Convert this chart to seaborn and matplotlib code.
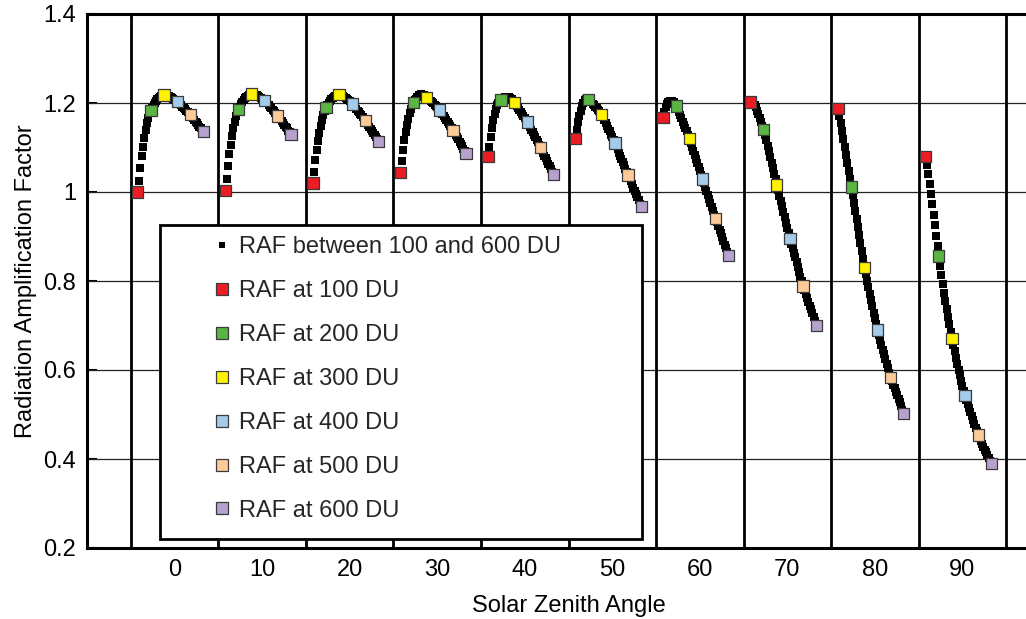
import numpy as np
import pandas as pd
import matplotlib
matplotlib.use("Agg")
import matplotlib.pyplot as plt
from matplotlib.lines import Line2D
from matplotlib.patches import Rectangle
import seaborn as sns

# Solar zenith angles (degrees) and ozone column amounts (Dobson units)
angles = [0, 10, 20, 30, 40, 50, 60, 70, 80, 90]
ozone_du = list(range(100, 601, 10))
marker_du = [100, 200, 300, 400, 500, 600]

# RAF at every 10 DU from 100 to 600 DU, one list per solar zenith angle
raf_sza0 = [1.000, 1.025, 1.055, 1.081, 1.102, 1.121, 1.139, 1.154, 1.167, 1.177, 1.183,
            1.189, 1.195, 1.200, 1.204, 1.208, 1.211, 1.214, 1.216, 1.217, 1.218,
            1.218, 1.217, 1.216, 1.215, 1.213, 1.211, 1.209, 1.207, 1.205, 1.204,
            1.201, 1.198, 1.195, 1.192, 1.189, 1.186, 1.183, 1.180, 1.177, 1.174,
            1.170, 1.166, 1.162, 1.158, 1.155, 1.151, 1.147, 1.143, 1.139, 1.136]
raf_sza10 = [1.004, 1.029, 1.059, 1.085, 1.106, 1.125, 1.143, 1.158, 1.171, 1.180, 1.186,
             1.192, 1.198, 1.203, 1.207, 1.211, 1.214, 1.216, 1.218, 1.219, 1.220,
             1.220, 1.219, 1.218, 1.217, 1.215, 1.213, 1.211, 1.209, 1.207, 1.205,
             1.202, 1.199, 1.196, 1.192, 1.189, 1.185, 1.182, 1.178, 1.175, 1.171,
             1.167, 1.163, 1.159, 1.155, 1.151, 1.147, 1.143, 1.138, 1.134, 1.130]
raf_sza20 = [1.020, 1.045, 1.071, 1.094, 1.114, 1.132, 1.148, 1.162, 1.174, 1.183, 1.190,
             1.195, 1.200, 1.204, 1.208, 1.211, 1.214, 1.216, 1.217, 1.218, 1.219,
             1.219, 1.218, 1.216, 1.214, 1.212, 1.210, 1.207, 1.204, 1.201, 1.198,
             1.195, 1.191, 1.187, 1.183, 1.179, 1.176, 1.172, 1.168, 1.164, 1.160,
             1.156, 1.151, 1.147, 1.142, 1.137, 1.133, 1.128, 1.123, 1.119, 1.114]
raf_sza30 = [1.044, 1.069, 1.094, 1.116, 1.135, 1.151, 1.165, 1.177, 1.187, 1.195, 1.201,
             1.206, 1.210, 1.214, 1.217, 1.219, 1.220, 1.219, 1.218, 1.216, 1.213,
             1.211, 1.208, 1.205, 1.202, 1.199, 1.196, 1.193, 1.190, 1.187, 1.184,
             1.180, 1.175, 1.171, 1.166, 1.162, 1.157, 1.153, 1.148, 1.144, 1.139,
             1.134, 1.129, 1.124, 1.118, 1.113, 1.108, 1.103, 1.097, 1.092, 1.087]
raf_sza40 = [1.079, 1.102, 1.124, 1.144, 1.161, 1.175, 1.186, 1.195, 1.201, 1.205, 1.207,
             1.210, 1.212, 1.213, 1.214, 1.214, 1.213, 1.211, 1.209, 1.205, 1.201,
             1.197, 1.193, 1.188, 1.184, 1.179, 1.175, 1.170, 1.166, 1.161, 1.157,
             1.152, 1.146, 1.140, 1.134, 1.128, 1.123, 1.117, 1.112, 1.106, 1.100,
             1.094, 1.088, 1.082, 1.076, 1.070, 1.064, 1.058, 1.052, 1.045, 1.039]
raf_sza50 = [1.121, 1.140, 1.157, 1.171, 1.183, 1.193, 1.201, 1.206, 1.210, 1.210, 1.208,
             1.205, 1.202, 1.198, 1.195, 1.191, 1.188, 1.185, 1.181, 1.178, 1.174,
             1.168, 1.161, 1.155, 1.148, 1.142, 1.136, 1.129, 1.123, 1.116, 1.110,
             1.103, 1.096, 1.088, 1.081, 1.074, 1.067, 1.060, 1.052, 1.045, 1.038,
             1.031, 1.024, 1.017, 1.010, 1.002, 0.995, 0.988, 0.981, 0.974, 0.967]
raf_sza60 = [1.167, 1.180, 1.190, 1.197, 1.202, 1.204, 1.205, 1.204, 1.202, 1.198, 1.193,
             1.187, 1.180, 1.173, 1.166, 1.158, 1.151, 1.143, 1.136, 1.128, 1.120,
             1.111, 1.102, 1.093, 1.084, 1.074, 1.065, 1.056, 1.047, 1.038, 1.029,
             1.020, 1.011, 1.002, 0.993, 0.984, 0.976, 0.967, 0.958, 0.949, 0.940,
             0.932, 0.924, 0.915, 0.907, 0.898, 0.890, 0.882, 0.874, 0.865, 0.857]
raf_sza70 = [1.202, 1.202, 1.200, 1.196, 1.190, 1.183, 1.175, 1.166, 1.157, 1.149, 1.141,
             1.129, 1.117, 1.104, 1.092, 1.079, 1.066, 1.054, 1.041, 1.029, 1.016,
             1.004, 0.992, 0.980, 0.968, 0.956, 0.943, 0.931, 0.919, 0.907, 0.895,
             0.884, 0.874, 0.863, 0.853, 0.842, 0.831, 0.821, 0.810, 0.800, 0.789,
             0.780, 0.771, 0.762, 0.753, 0.744, 0.736, 0.727, 0.718, 0.709, 0.700]
raf_sza80 = [1.187, 1.171, 1.154, 1.137, 1.119, 1.101, 1.083, 1.065, 1.047, 1.029, 1.011,
             0.993, 0.975, 0.957, 0.939, 0.921, 0.903, 0.885, 0.867, 0.849, 0.831,
             0.816, 0.801, 0.786, 0.771, 0.757, 0.743, 0.729, 0.716, 0.703, 0.690,
             0.679, 0.668, 0.657, 0.646, 0.635, 0.625, 0.614, 0.604, 0.593, 0.583,
             0.575, 0.567, 0.559, 0.551, 0.543, 0.535, 0.527, 0.519, 0.511, 0.503]
raf_sza90 = [1.080, 1.061, 1.040, 1.018, 0.995, 0.972, 0.948, 0.925, 0.902, 0.879, 0.856,
             0.834, 0.813, 0.793, 0.774, 0.756, 0.737, 0.720, 0.703, 0.686, 0.670,
             0.656, 0.642, 0.628, 0.614, 0.601, 0.588, 0.576, 0.564, 0.553, 0.542,
             0.532, 0.523, 0.514, 0.505, 0.496, 0.487, 0.479, 0.470, 0.462, 0.454,
             0.447, 0.441, 0.434, 0.428, 0.421, 0.415, 0.409, 0.402, 0.396, 0.390]

raf_by_angle = [raf_sza0, raf_sza10, raf_sza20, raf_sza30, raf_sza40,
                raf_sza50, raf_sza60, raf_sza70, raf_sza80, raf_sza90]

series_labels = ["RAF between 100 and 600 DU", "RAF at 100 DU", "RAF at 200 DU",
                 "RAF at 300 DU", "RAF at 400 DU", "RAF at 500 DU", "RAF at 600 DU"]
du_colors = ["#ED1C24", "#5BB545", "#FFF200", "#A4CBEA", "#FDCB98", "#B7A2CF"]

# Long-form table: each point sits inside its angle's column, shifted by ozone amount
rows = []
for ang, raf in zip(angles, raf_by_angle):
    for du, val in zip(ozone_du, raf):
        rows.append({"angle": ang, "du": du, "raf": val,
                     "xpos": ang - 4.2 + 1.5 * (du - 100) / 100})
df = pd.DataFrame(rows)
df_marked = df[df["du"].isin(marker_du)].copy()

sns.set_theme(style="white")
plt.rcParams["font.family"] = ["Liberation Sans", "DejaVu Sans"]

fig = plt.figure(figsize=(10.26, 6.19), dpi=100)
ax = fig.add_axes([87 / 1026, 71 / 619, 963 / 1026, 534 / 619])

# Continuous curve of small black squares
sns.scatterplot(data=df, x="xpos", y="raf", marker="s", s=26, color="black",
                linewidth=0, ax=ax, legend=False, zorder=3)
# Highlighted ozone amounts
sns.scatterplot(data=df_marked, x="xpos", y="raf", hue="du", palette=du_colors,
                marker="s", s=66, edgecolor="#3a3a3a", linewidth=0.9,
                ax=ax, legend=False, zorder=4)

ax.set_xlim(-10, 100)
ax.set_ylim(0.2, 1.4)

# Horizontal grid and column separators
for yv in [0.4, 0.6, 0.8, 1.0, 1.2]:
    ax.axhline(yv, color="#222222", lw=0.9, zorder=1)
for xv in range(-5, 100, 10):
    ax.axvline(xv, color="black", lw=2.0, zorder=2)

ax.set_xticks(angles)
ax.set_xticklabels([str(a) for a in angles])
ax.set_yticks([0.2, 0.4, 0.6, 0.8, 1.0, 1.2, 1.4])
ax.set_yticklabels(["0.2", "0.4", "0.6", "0.8", "1", "1.2", "1.4"])
ax.tick_params(axis="x", length=0, pad=8, labelsize=17, colors="black")
ax.tick_params(axis="y", direction="in", length=7, width=1.5, pad=8,
               labelsize=17, colors="black", left=True)

ax.set_xlabel("Solar Zenith Angle", fontsize=17, labelpad=10, color="black")
ax.set_ylabel("Radiation Amplification Factor", fontsize=17, labelpad=4, color="black")

for side in ["left", "top", "bottom"]:
    ax.spines[side].set_color("black")
    ax.spines[side].set_linewidth(2.2)
ax.spines["right"].set_visible(False)

# Legend panel
panel = Rectangle((73 / 963, 9 / 534), 482 / 963, 314 / 534, transform=ax.transAxes,
                  facecolor="white", edgecolor="black", lw=2.0, zorder=6)
ax.add_patch(panel)

handles = [Line2D([], [], ls="none", marker="s", markersize=4, color="black",
                  markeredgewidth=0)]
for c in du_colors:
    handles.append(Line2D([], [], ls="none", marker="s", markersize=8,
                          markerfacecolor=c, markeredgecolor="#3a3a3a",
                          markeredgewidth=0.9))
leg = ax.legend(handles, series_labels, loc="upper left",
                bbox_to_anchor=(127 / 963, 312 / 534), frameon=False,
                fontsize=17, labelspacing=0.93, handlelength=0.7,
                handletextpad=0.35, borderpad=0, borderaxespad=0)
leg.set_zorder(7)

fig.savefig("out.png", dpi=100)
